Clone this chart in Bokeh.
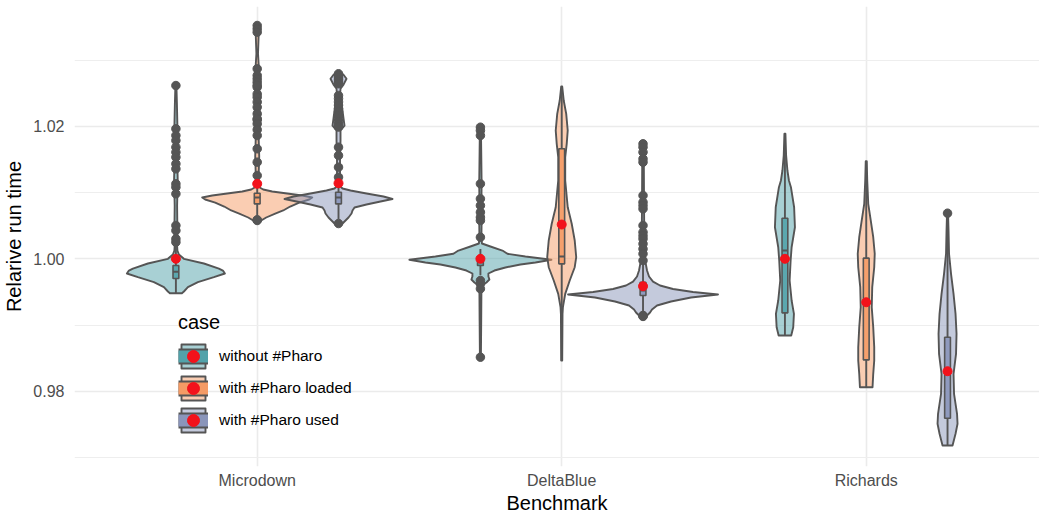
import numpy as np
from bokeh.plotting import figure
from bokeh.models import (Range1d, FixedTicker, ColumnDataSource, Legend, LegendItem,
                          NumeralTickFormatter)
from bokeh.embed import file_html
from bokeh.resources import INLINE

# ---------------- data ----------------
benchmarks = ["Microdown", "DeltaBlue", "Richards"]
cases = ["without #Pharo", "with #Pharo loaded", "with #Pharo used"]

# violin outlines: y values and relative density (half width)
md_without_y = [0.9948, 0.99506, 0.99571, 0.99647, 0.99722, 0.99778, 0.99823, 0.99853, 0.99929, 1.0, 1.00065, 1.00125, 1.00201, 1.004, 1.008, 1.012, 1.016, 1.020, 1.0235, 1.0262]
md_without_d = [6, 8, 12, 22, 38, 49, 47, 43, 28, 8, 3, 1.5, 1.2, 1.5, 1.2, 1.8, 1.2, 1.5, 1.0, 0.5]
md_loaded_y = [1.00579, 1.00624, 1.00684, 1.0073, 1.0079, 1.0085, 1.00896, 1.00926, 1.00956, 1.00986, 1.01017, 1.01047, 1.01077, 1.01122, 1.013, 1.0155, 1.018, 1.0205, 1.023, 1.0255, 1.028, 1.031, 1.034, 1.0352]
md_loaded_d = [4, 9, 18, 26, 33, 42, 52, 55, 45, 30, 15, 6, 2.5, 1.5, 1.5, 2, 1.5, 2.5, 2.5, 2, 2, 0.8, 1.5, 0.5]
md_used_y = [1.00533, 1.00579, 1.00624, 1.00684, 1.0073, 1.00775, 1.0082, 1.00866, 1.00903, 1.00941, 1.00986, 1.01032, 1.01062, 1.01092, 1.0126, 1.0149, 1.0179, 1.0194, 1.0201, 1.0212, 1.0224, 1.0235, 1.0247, 1.0257, 1.0263, 1.0272, 1.0278, 1.0282]
md_used_d = [4, 7, 10, 13, 14, 16, 28, 42, 54, 45, 28, 12, 4, 2, 1.5, 1.5, 2, 2, 6, 5, 4, 3, 1.5, 2, 5, 8, 5, 1]
db_without_y = [0.98509, 0.99068, 0.99521, 0.99597, 0.99642, 0.99688, 0.99733, 0.99778, 0.99823, 0.99869, 0.99914, 0.99944, 0.99985, 1.00035, 1.00076, 1.00125, 1.00186, 1.00231, 1.00337, 1.00579, 1.00881, 1.01138, 1.01636, 1.01983]
db_without_d = [0.5, 0.8, 1, 2, 6, 9, 8, 8, 14, 25, 40, 55, 71, 45, 27, 22, 10, 1.5, 1, 1.2, 1, 1.2, 0.8, 0.5]
db_loaded_y = [0.98464, 0.99169, 0.99269, 0.99471, 0.99672, 0.99873, 1.00024, 1.00276, 1.00529, 1.00779, 1.01183, 1.01535, 1.01737, 1.01938, 1.0219, 1.02391, 1.02603]
db_loaded_d = [0.5, 0.8, 1.2, 3.5, 8, 13, 14.5, 13, 10, 6, 3.5, 3.5, 5, 6, 4.5, 2, 0.5]
db_used_y = [0.99144, 0.99189, 0.99234, 0.99295, 0.99355, 0.99415, 0.99461, 0.99498, 0.99544, 0.99597, 0.99655, 0.99733, 0.99823, 0.99944, 1.00125, 1.00427, 1.00881, 1.01485, 1.01742]
db_used_d = [4, 7, 9, 14, 28, 48, 75, 50, 30, 17, 10, 6, 4, 2.5, 1.5, 1.2, 1, 0.8, 0.5]
ri_without_y = [0.98841, 0.98967, 0.99169, 0.9937, 0.99672, 0.99974, 1.00175, 1.00477, 1.00779, 1.01082, 1.01183, 1.01334, 1.0156, 1.01888]
ri_without_d = [6.3, 8.3, 9, 6.7, 4.7, 5.7, 6.7, 10, 9.2, 6, 4, 2.5, 1.2, 0.5]
ri_loaded_y = [0.9806, 0.98263, 0.98464, 0.98665, 0.98967, 0.99269, 0.99571, 0.99873, 1.00076, 1.00326, 1.00579, 1.00831, 1.01183, 1.01474]
ri_loaded_d = [6.3, 7, 8, 8, 7, 5.5, 6, 8, 8.5, 7, 4.5, 2, 1, 0.5]
ri_used_y = [0.9718, 0.97357, 0.97508, 0.97659, 0.97961, 0.98263, 0.98565, 0.98867, 0.99169, 0.99471, 0.99773, 1.00076, 1.00427, 1.00689]
ri_used_d = [5, 8, 10, 9.5, 6.5, 6, 8.5, 9, 8, 6, 3.5, 1.5, 1, 0.5]

# box statistics per case, in benchmark order
q1_without = [0.99702, 0.99899, 0.99184]
med_without = [0.99805, 0.99950, 1.00125]
q3_without = [0.99899, 1.00000, 1.00613]
lo_without = [0.99480, 0.99750, 0.98841]
hi_without = [1.00190, 1.00150, 1.01888]

q1_loaded = [1.00830, 0.99924, 0.98474]
med_loaded = [1.00926, 1.00035, 0.99350]
q3_loaded = [1.00990, 1.01662, 1.00010]
lo_loaded = [1.00620, 0.98464, 0.98060]
hi_loaded = [1.01220, 1.02603, 1.01474]

q1_used = [1.00830, 0.99446, 0.97592]
med_used = [1.00926, 0.99521, 0.98300]
q3_used = [1.01006, 0.99647, 0.98816]
lo_used = [1.00600, 0.99160, 0.97180]
hi_used = [1.01240, 0.99940, 1.00600]

mean_without = [1.00000, 1.00000, 1.00000]
mean_loaded = [1.01133, 1.00518, 0.99344]
mean_used = [1.01142, 0.99586, 0.98302]

# outliers
md_without_out = [1.02617, 1.01964, 1.01863, 1.01787, 1.01686, 1.0161, 1.01535, 1.01435, 1.01359, 1.01133, 1.01082, 1.00982, 1.00503, 1.00427, 1.00302, 1.00251]
md_loaded_out = [1.03524, 1.03474, 1.03423, 1.0287, 1.02769, 1.02719, 1.02668, 1.02593, 1.0262, 1.0249, 1.02442, 1.02367, 1.02291, 1.0219, 1.0210, 1.02115, 1.02039, 1.0195, 1.01863, 1.01662, 1.0146, 1.01258, 1.00579, 1.0059]
md_used_out = [1.02795, 1.02764, 1.02734, 1.02704, 1.02674, 1.02644, 1.02467, 1.0242, 1.0237, 1.0232, 1.0227, 1.0222, 1.0217, 1.0212, 1.0207, 1.0202, 1.0199, 1.01686, 1.0156, 1.01384, 1.01233, 1.00533]
db_without_out = [1.01988, 1.01938, 1.01863, 1.01133, 1.00906, 1.00805, 1.00704, 1.00628, 1.00579, 1.00326, 0.99672, 0.99622, 0.99547, 0.98514]
db_loaded_out = []
db_used_out = [1.01737, 1.01686, 1.01611, 1.01511, 1.01459, 1.00956, 1.00855, 1.00805, 1.00755, 1.00503, 1.00402, 1.0035, 1.00302, 1.00227, 1.0015, 1.00076, 0.99974, 0.99144, 0.9914, 0.9913]
ri_without_out = []
ri_loaded_out = []
ri_used_out = [1.00689]

# ---------------- style ----------------
FONT = "Liberation Sans"
base = ["#52A2AA", "#F59B65", "#8A95BA"]
OUT = "#555555"
DODGE = 0.267
DENS_SCALE = 1 / 304.5
BOX_HW = 0.0095
LW = 1.9

violin_y = {
    "without #Pharo": [md_without_y, db_without_y, ri_without_y],
    "with #Pharo loaded": [md_loaded_y, db_loaded_y, ri_loaded_y],
    "with #Pharo used": [md_used_y, db_used_y, ri_used_y],
}
violin_d = {
    "without #Pharo": [md_without_d, db_without_d, ri_without_d],
    "with #Pharo loaded": [md_loaded_d, db_loaded_d, ri_loaded_d],
    "with #Pharo used": [md_used_d, db_used_d, ri_used_d],
}
outliers = {
    "without #Pharo": [md_without_out, db_without_out, ri_without_out],
    "with #Pharo loaded": [md_loaded_out, db_loaded_out, ri_loaded_out],
    "with #Pharo used": [md_used_out, db_used_out, ri_used_out],
}
stats = {
    "without #Pharo": (q1_without, med_without, q3_without, lo_without, hi_without, mean_without),
    "with #Pharo loaded": (q1_loaded, med_loaded, q3_loaded, lo_loaded, hi_loaded, mean_loaded),
    "with #Pharo used": (q1_used, med_used, q3_used, lo_used, hi_used, mean_used),
}

p = figure(width=1039, height=516,
           x_range=Range1d(0.4, 3.569), y_range=Range1d(0.96863, 1.03811),
           output_backend="svg", toolbar_location=None,
           min_border_left=74, min_border_right=0, min_border_top=6, min_border_bottom=50)
p.outline_line_color = None
p.background_fill_color = "white"
p.border_fill_color = "white"

# axes
p.xaxis.ticker = FixedTicker(ticks=[1, 2, 3])
p.xaxis.major_label_overrides = {1: "Microdown", 2: "DeltaBlue", 3: "Richards"}
p.yaxis.ticker = FixedTicker(ticks=[0.98, 1.0, 1.02], minor_ticks=[0.97, 0.99, 1.01, 1.03])
p.yaxis.formatter = NumeralTickFormatter(format="0.00")
for ax in (p.xaxis, p.yaxis):
    ax.axis_line_color = None
    ax.major_tick_line_color = None
    ax.minor_tick_line_color = None
    ax.major_tick_out = 0
    ax.minor_tick_out = 0
    ax.major_label_text_font = FONT
    ax.major_label_text_font_size = "16px"
    ax.major_label_text_color = "#4D4D4D"
    ax.axis_label_text_font = FONT
    ax.axis_label_text_font_size = "20px"
    ax.axis_label_text_font_style = "normal"
    ax.axis_label_text_color = "black"
p.xaxis.axis_label = "Benchmark"
p.yaxis.axis_label = "Relarive run time"
p.xaxis.major_label_standoff = 5
p.xaxis.axis_label_standoff = 0
p.yaxis.major_label_standoff = 10
p.yaxis.axis_label_standoff = 5

p.xgrid.grid_line_color = "#EBEBEB"
p.xgrid.grid_line_width = 1.6
p.ygrid.grid_line_color = "#EBEBEB"
p.ygrid.grid_line_width = 1.6
p.ygrid.minor_grid_line_color = "#EEEEEE"
p.ygrid.minor_grid_line_width = 1.0

offsets = [-DODGE, 0.0, DODGE]

# violins
violin_r = []
for ci, case in enumerate(cases):
    xs, ys = [], []
    for bi in range(len(benchmarks)):
        y = np.array(violin_y[case][bi])
        d = np.array(violin_d[case][bi]) * DENS_SCALE
        order = np.argsort(y)
        y, d = y[order], d[order]
        c = bi + 1 + offsets[ci]
        xs.append(list(c + d) + list(c - d[::-1]))
        ys.append(list(y) + list(y[::-1]))
    r = p.patches(xs, ys, fill_color=base[ci], fill_alpha=0.5,
                  line_color=OUT, line_width=LW, line_join="round")
    violin_r.append(r)

# boxplots: outliers, whiskers, boxes, medians
for ci, case in enumerate(cases):
    q1, med, q3, lo, hi, mn = stats[case]
    cx = [bi + 1 + offsets[ci] for bi in range(len(benchmarks))]
    ox, oy = [], []
    for bi in range(len(benchmarks)):
        for v in outliers[case][bi]:
            ox.append(cx[bi]); oy.append(v)
    p.scatter(ox, oy, size=8.5, color=OUT)
    p.segment(x0=cx, y0=q3, x1=cx, y1=hi, line_color=OUT, line_width=LW)
    p.segment(x0=cx, y0=lo, x1=cx, y1=q1, line_color=OUT, line_width=LW)
    src = ColumnDataSource(dict(l=[c - BOX_HW for c in cx], r=[c + BOX_HW for c in cx],
                                b=q1, t=q3))
    p.quad(left="l", right="r", bottom="b", top="t", source=src,
           fill_color=base[ci], fill_alpha=0.9, line_color=OUT, line_width=1.6)
    p.segment(x0=[c - BOX_HW for c in cx], y0=med, x1=[c + BOX_HW for c in cx], y1=med,
              line_color=OUT, line_width=LW)

# means
mean_r = []
for ci, case in enumerate(cases):
    mn = stats[case][5]
    cx = [bi + 1 + offsets[ci] for bi in range(len(benchmarks))]
    mean_r.append(p.scatter(cx, mn, size=9, color="#F2121B"))

# legend keys: inner box band drawn only in the legend (NaN data -> nothing in the plot)
items = []
nan = float("nan")
for ci, case in enumerate(cases):
    edge = p.line(x="x", y="y", source=ColumnDataSource(dict(x=[nan], y=[nan])),
                  line_color=OUT, line_width=16)
    band = p.line(x="x", y="y", source=ColumnDataSource(dict(x=[nan], y=[nan])),
                  line_color=base[ci], line_width=12)
    items.append(LegendItem(label=case, renderers=[violin_r[ci], edge, band, mean_r[ci]]))

legend = Legend(items=items, location=(104, 31), title="case",
                title_text_font=FONT, title_text_font_size="20px",
                title_text_font_style="normal", title_text_color="black",
                title_standoff=7,
                label_text_font=FONT, label_text_font_size="15.5px", label_text_color="black",
                glyph_width=30, glyph_height=30, label_height=30, label_standoff=11,
                spacing=2, padding=0, margin=0,
                background_fill_alpha=0, border_line_alpha=0)
p.add_layout(legend, "center")

open("out.html", "w").write(file_html(p, INLINE))
